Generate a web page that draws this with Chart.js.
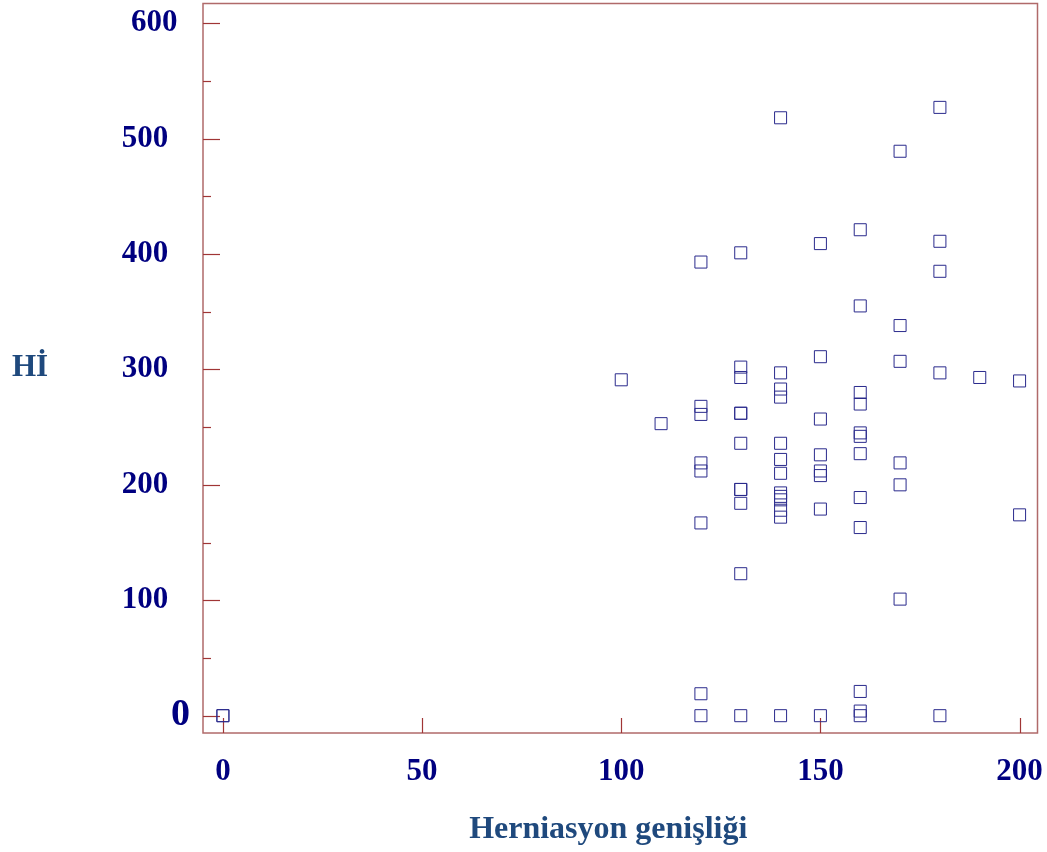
<!DOCTYPE html>
<html>
<head>
<meta charset="utf-8">
<script src="https://cdn.jsdelivr.net/npm/chart.js@4"></script>
<style>
  body { margin: 0; background: #fff; overflow: hidden; }
  #canvas { display: block; margin-top: -6px; }
</style>
</head>
<body>
<canvas id="canvas" width="1047" height="858"></canvas>
<script>
// herniasyon genisligi (x) - Hİ (y)
const xColumns = [0, 100, 110, 120, 130, 140, 150, 160, 170, 180, 190, 200];
const hiValues = [
    [0, 0],
    [291],
    [253],
    [393, 268, 261, 219, 212, 167, 19, 0],
    [401, 302, 293, 262, 262, 236, 196, 196, 184, 123, 0],
    [518, 297, 283, 276, 236, 222, 210, 193, 190, 187, 178, 172, 0],
    [409, 311, 257, 226, 212, 208, 179, 0],
    [421, 355, 280, 270, 245, 242, 227, 189, 163, 21, 4, 0],
    [489, 338, 307, 219, 200, 101],
    [527, 411, 385, 297, 0],
    [293],
    [290, 174]
];
const xTicks = [0, 50, 100, 150, 200];
const yTicks = [0, 50, 100, 150, 200, 250, 300, 350, 400, 450, 500, 550, 600];
const xTitle = 'Herniasyon genişliği';
const yTitle = 'Hİ';

var points = [];
xColumns.forEach(function(x, i){
    hiValues[i].forEach(function(y){
        points.push({x: x, y: y});
    });
});

const serif = "'Times New Roman', 'Liberation Serif', serif";
const axisColor = '#b06a6a';
const tickColor = '#a03535';

const frameAndTicks = {
    id: 'frameAndTicks',
    beforeDatasetsDraw: function(chart){
        const ctx = chart.ctx;
        const a = chart.chartArea;
        const xs = chart.scales.x, ys = chart.scales.y;
        ctx.save();
        ctx.strokeStyle = axisColor;
        ctx.lineWidth = 1.5;
        ctx.strokeRect(a.left, a.top, a.right - a.left, a.bottom - a.top);
        ctx.strokeStyle = tickColor;
        ctx.lineWidth = 1.2;
        yTicks.forEach(function(v){
            const py = Math.round(ys.getPixelForValue(v)) + 0.5;
            const len = v % 100 === 0 ? 17 : 8;
            ctx.beginPath();
            ctx.moveTo(a.left, py);
            ctx.lineTo(a.left + len, py);
            ctx.stroke();
        });
        xTicks.forEach(function(v){
            const px = Math.round(xs.getPixelForValue(v)) + 0.5;
            ctx.beginPath();
            ctx.moveTo(px, a.bottom);
            ctx.lineTo(px, a.bottom - 15);
            ctx.stroke();
        });
        ctx.restore();
    },
    afterDraw: function(chart){
        const ctx = chart.ctx;
        const a = chart.chartArea;
        ctx.save();
        ctx.fillStyle = '#1f497d';
        ctx.font = 'bold 31px ' + serif;
        ctx.textAlign = 'center';
        ctx.textBaseline = 'middle';
        ctx.fillText(yTitle, 30, (a.top + a.bottom) / 2);
        ctx.restore();
    }
};

const ctx = document.getElementById('canvas').getContext('2d');
const scatter = new Chart(ctx, {
    type: 'scatter',
    data: {
        datasets: [{
            label: yTitle,
            data: points,
            pointStyle: 'rect',
            radius: 8.5,
            hoverRadius: 8.5,
            borderWidth: 1,
            borderColor: '#2a2a8c',
            backgroundColor: 'rgba(0,0,0,0)'
        }]
    },
    options: {
        responsive: false,
        animation: false,
        events: [],
        layout: { padding: { top: 0, right: 9, left: 0, bottom: 0 } },
        plugins: {
            legend: { display: false },
            tooltip: { enabled: false }
        },
        scales: {
            x: {
                type: 'linear',
                min: -5,
                max: 204.5,
                afterFit: function(s){
                    s.height = 119;
                    s.paddingLeft = 0;
                    s.paddingRight = 0;
                },
                afterBuildTicks: function(s){
                    s.ticks = xTicks.map(function(v){ return {value: v}; });
                },
                grid: { display: false, drawTicks: false },
                border: { display: false },
                ticks: {
                    padding: 20,
                    color: '#000080',
                    font: { family: serif, size: 31, weight: 'bold' },
                    maxRotation: 0,
                    autoSkip: false
                },
                title: {
                    display: true,
                    text: xTitle + '\u2002 ',
                    color: '#1f497d',
                    font: { family: serif, size: 32, weight: 'bold' },
                    padding: { top: 0, bottom: 3 }
                }
            },
            y: {
                type: 'linear',
                min: -15,
                max: 617,
                afterFit: function(s){
                    s.width = 203;
                    s.paddingTop = 0;
                    s.paddingBottom = 0;
                },
                afterBuildTicks: function(s){
                    s.ticks = yTicks.filter(function(v){ return v % 100 === 0; })
                        .map(function(v){ return {value: v}; });
                },
                grid: { display: false, drawTicks: false },
                border: { display: false },
                ticks: {
                    padding: 13,
                    color: '#000080',
                    autoSkip: false,
                    font: function(c){
                        if (c.tick && c.tick.value === 0) {
                            return { family: serif, size: 38, weight: 'bold' };
                        }
                        return { family: serif, size: 31, weight: 'bold' };
                    },
                    callback: function(v){
                        if (v === 0) return '0';
                        if (v === 600) return v + '\u2009\u2009';
                        return v + '\u2002\u2009';
                    }
                }
            }
        }
    },
    plugins: [frameAndTicks]
});
</script>
</body>
</html>
